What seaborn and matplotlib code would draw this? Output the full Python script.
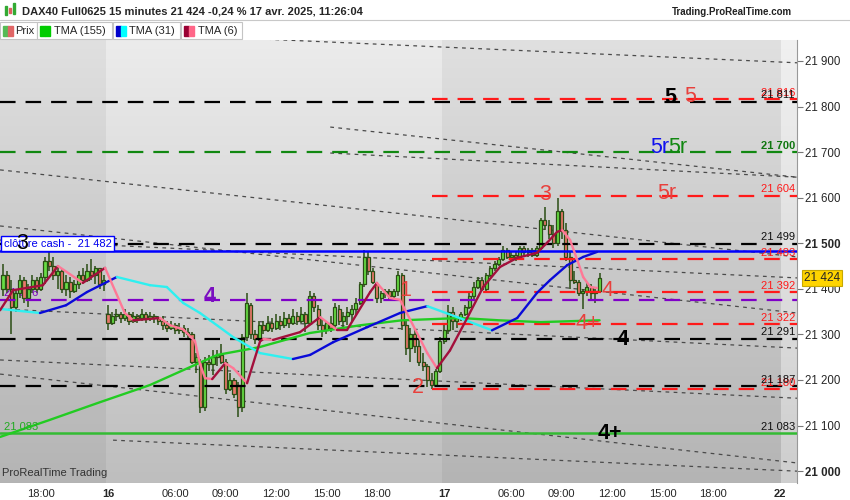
import matplotlib
matplotlib.use("Agg")
import matplotlib.pyplot as plt
import matplotlib.transforms as mtransforms
from matplotlib.patches import Rectangle
import numpy as np
import pandas as pd
import seaborn as sns

##################################################
# Bougies 15 minutes (index de barre : 0 = 15/04 15:45, 25 = ouverture du 16, 105 = ouverture du 17)
opens = [21400, 21430, 21400, 21360, 21390, 21420, 21380, 21400, 21420, 21400, 21425, 21460, 21450,
         21430, 21440, 21400, 21415, 21395, 21410, 21430, 21420, 21440, 21430, 21445, 21410,
         # 16
         21345, 21325, 21340, 21345, 21335, 21345, 21330, 21340, 21335, 21345, 21335, 21340, 21335,
         21330, 21320, 21315, 21320, 21310, 21315, 21305, 21300, 21240, 21240, 21140, 21240, 21235,
         21250, 21255, 21240, 21180, 21200, 21190, 21140, 21295, 21365, 21300, 21290, 21320, 21310,
         21325, 21315, 21330, 21320, 21335, 21325, 21340, 21330, 21345, 21325, 21385, 21355, 21320,
         21310, 21325, 21320, 21355, 21330, 21340, 21345, 21355, 21370, 21410, 21470, 21440, 21410,
         21380, 21390, 21395, 21385, 21395, 21430, 21320, 21270, 21300, 21275, 21240, 21230, 21200,
         21190, 21220,
         # 17
         21285, 21310, 21350, 21330, 21335, 21345, 21360, 21385, 21405, 21420, 21400, 21430, 21445,
         21455, 21465, 21485, 21470, 21475, 21470, 21490, 21480, 21485, 21475, 21490, 21550, 21540,
         21520, 21500, 21570, 21530, 21470, 21420, 21415, 21390, 21395, 21405, 21390, 21395]
highs = [21455, 21440, 21420, 21400, 21430, 21425, 21410, 21430, 21425, 21435, 21470, 21480, 21470,
         21450, 21445, 21430, 21425, 21420, 21440, 21445, 21455, 21465, 21450, 21445, 21430,
         21365, 21350, 21355, 21350, 21355, 21350, 21350, 21345, 21355, 21350, 21350, 21345, 21340,
         21340, 21330, 21330, 21325, 21325, 21320, 21315, 21305, 21260, 21245, 21250, 21255, 21265,
         21265, 21280, 21245, 21215, 21205, 21195, 21300, 21390, 21370, 21310, 21330, 21330, 21340,
         21335, 21345, 21340, 21350, 21345, 21355, 21350, 21360, 21350, 21395, 21390, 21365, 21335,
         21330, 21340, 21370, 21365, 21350, 21360, 21365, 21380, 21415, 21485, 21480, 21445, 21415,
         21395, 21400, 21400, 21400, 21440, 21435, 21330, 21315, 21310, 21290, 21260, 21235, 21215,
         21225, 21295,
         21320, 21365, 21360, 21340, 21350, 21365, 21390, 21415, 21425, 21425, 21435, 21450, 21460,
         21470, 21495, 21490, 21480, 21480, 21495, 21495, 21490, 21490, 21495, 21555, 21580, 21550,
         21540, 21600, 21575, 21545, 21480, 21440, 21420, 21400, 21415, 21410, 21400, 21435]
lows = [21385, 21390, 21300, 21350, 21380, 21370, 21360, 21390, 21390, 21395, 21410, 21440, 21420,
        21400, 21390, 21385, 21380, 21390, 21400, 21410, 21415, 21420, 21410, 21400, 21395,
        21310, 21320, 21330, 21325, 21330, 21320, 21325, 21325, 21330, 21325, 21330, 21325, 21320,
        21310, 21305, 21310, 21300, 21300, 21295, 21290, 21235, 21215, 21127, 21132, 21220, 21210,
        21230, 21235, 21170, 21175, 21160, 21118, 21130, 21285, 21290, 21280, 21285, 21300, 21305,
        21305, 21310, 21310, 21315, 21315, 21320, 21320, 21325, 21305, 21320, 21350, 21310, 21295,
        21300, 21305, 21315, 21320, 21310, 21320, 21330, 21340, 21365, 21405, 21430, 21410, 21370,
        21370, 21380, 21375, 21375, 21385, 21310, 21255, 21240, 21260, 21230, 21220, 21185, 21180,
        21185, 21215,
        21280, 21300, 21310, 21315, 21330, 21340, 21355, 21375, 21400, 21395, 21395, 21425, 21440,
        21450, 21460, 21465, 21460, 21460, 21465, 21470, 21470, 21470, 21470, 21485, 21530, 21510,
        21490, 21495, 21510, 21460, 21400, 21410, 21385, 21355, 21385, 21375, 21370, 21390]
closes = [21430, 21400, 21360, 21390, 21420, 21380, 21400, 21420, 21400, 21425, 21460, 21450, 21430,
          21440, 21400, 21415, 21395, 21410, 21430, 21420, 21440, 21430, 21445, 21410, 21420,
          21325, 21340, 21345, 21335, 21345, 21330, 21340, 21335, 21345, 21335, 21340, 21335, 21330,
          21320, 21315, 21320, 21310, 21315, 21305, 21300, 21240, 21250, 21140, 21240, 21235, 21250,
          21255, 21240, 21180, 21200, 21170, 21140, 21295, 21370, 21300, 21290, 21320, 21310, 21325,
          21315, 21330, 21320, 21335, 21325, 21340, 21330, 21345, 21325, 21385, 21360, 21320, 21310,
          21325, 21315, 21360, 21330, 21340, 21350, 21355, 21370, 21410, 21470, 21440, 21415, 21380,
          21390, 21395, 21385, 21395, 21430, 21320, 21270, 21300, 21275, 21240, 21230, 21200, 21190,
          21220, 21285,
          21310, 21350, 21330, 21335, 21345, 21360, 21385, 21405, 21420, 21400, 21430, 21445, 21455,
          21465, 21485, 21470, 21475, 21470, 21490, 21480, 21485, 21475, 21490, 21550, 21540, 21520,
          21500, 21570, 21530, 21470, 21420, 21415, 21390, 21395, 21405, 21390, 21395, 21424]

# Moyennes mobiles
tma155_bar = [-0.7, 11, 23, 35, 51, 61, 73, 85, 95, 109, 118, 128, 142]
tma155_val = [21075, 21112, 21151, 21189, 21255, 21272, 21303, 21320, 21331, 21336, 21331, 21327, 21331]

tma31_bar = [-0.7, 8.8, 15, 20, 27.1, 35, 39, 42.9, 46.9, 49.3, 54.8, 61.2, 69, 73.1, 78.6, 86.7,
             94.5, 101, 108.1, 116.4, 122.4, 127.1, 130.2, 134.3, 138.1, 141.4]
tma31_val = [21356, 21347, 21364, 21393, 21426, 21408, 21404, 21369, 21347, 21331, 21294, 21259, 21246,
             21255, 21283, 21316, 21347, 21362, 21338, 21309, 21336, 21391, 21419, 21452, 21470, 21481]

tma6_bar = [-0.7, 2.4, 9.5, 13.1, 19, 24.3, 29, 31, 37.4, 39.8, 42.9, 45.7, 46.9, 48.1, 49.8, 52.9,
            54.8, 58.1, 61.2, 62, 64.3, 70.7, 75.5, 79.5, 81.9, 87.4, 89, 92.1, 94.5, 101, 103.3,
            106.4, 110.5, 114.3, 118.3, 122.4, 127.1, 129.5, 131.9, 133.1, 135, 136.7, 138.1, 139.8, 141.4]
tma6_val = [21353, 21397, 21408, 21450, 21413, 21446, 21347, 21331, 21336, 21320, 21311, 21285, 21235,
            21204, 21202, 21237, 21226, 21193, 21285, 21290, 21288, 21305, 21338, 21310, 21310, 21393,
            21413, 21380, 21376, 21259, 21226, 21265, 21336, 21404, 21448, 21468, 21479, 21501, 21525,
            21529, 21507, 21463, 21426, 21404, 21402]

# Niveaux horizontaux
black_levels = [21811, 21499, 21291, 21187]
black_labels = ["21 811", "21 499", "21 291", "21 187"]
red_levels = [21816, 21604, 21465, 21392, 21322, 21180]
red_labels = ["21 816", "21 604", "21 483", "21 392", "21 322", "21 180"]
red_start = 102
green_dash_level, green_dash_label = 21700, "21 700"
purple_level, purple_label = 21376, "21 376"
cash_level, cash_label = 21482, "clôture cash -  21 482"
support_level, support_label = 21083, "21 083"

# Lignes de tendance (barre, prix) -> (barre, prix)
trend_b0 = [57.1, -0.7, 77.9, 77.9, -0.7, -0.7, -0.7, -0.7, -0.7, 26.2]
trend_p0 = [21950, 21661, 21755, 21698, 21507, 21538, 21356, 21244, 21213, 21068]
trend_b1 = [189, 189, 189, 189, 189, 189, 189, 189, 189, 189]
trend_p1 = [21896, 21470, 21645, 21645, 21424, 21347, 21270, 21160, 21018, 21000]

# Annotations (chiffres)
RED, BLACK, BLUE, GREEN, PURPLE = "#e8403c", "#000000", "#1010ee", "#118811", "#7a0fc0"
mark_text = ["5", "5", "5r", "5r", "5r", "3", "3", "4", "1", "4", "4+", "4", "2", "4+"]
mark_bar = [158.8, 163.6, 156.4, 160.7, 158.1, 129, 4.5, 49.3, 95.7, 143.8, 139.3, 147.4, 98.8, 144.5]
mark_price = [21819, 21823, 21711, 21711, 21610, 21606, 21500, 21384, 21397, 21397, 21323, 21288, 21184, 21083]
mark_color = [BLACK, RED, BLUE, GREEN, RED, RED, BLACK, PURPLE, RED, RED, RED, BLACK, RED, BLACK]
mark_bold = [True, False, False, False, False, False, False, True, False, False, False, True, False, True]

tick_bars = [9, 25, 41, 53, 65, 77, 89, 105, 121, 133, 145, 157, 169, 185]
tick_labels = ["18:00", "16", "06:00", "09:00", "12:00", "15:00", "18:00", "17",
               "06:00", "09:00", "12:00", "15:00", "18:00", "22"]
price_ticks = [21000, 21100, 21200, 21300, 21400, 21500, 21600, 21700, 21800, 21900]
last_price = 21424

##################################################
sns.set_style("white")
plt.rcParams['font.family'] = ['Liberation Sans', 'DejaVu Sans']

W, H = 850, 500
fig = plt.figure(figsize=(8.5, 5), dpi=100)
fig.patch.set_facecolor("white")
ax = fig.add_axes([0, 17 / H, 797 / W, 443 / H])
XMIN, XMAX = -0.71, 189.0
YMIN, YMAX = 20974, 21946
ax.set_xlim(XMIN, XMAX)
ax.set_ylim(YMIN, YMAX)

# Fond dégradé + bandes des journées
grad = np.linspace(0.925, 0.745, 256)
img = np.dstack([grad, grad, grad]).reshape(256, 1, 3)
ax.imshow(img, extent=(XMIN, XMAX, YMIN, YMAX), aspect="auto", origin="upper", zorder=0)
ax.axvspan(XMIN, 24.6, color="black", alpha=0.05, lw=0, zorder=0.5)
ax.axvspan(104.6, 185.2, color="black", alpha=0.05, lw=0, zorder=0.5)
ax.axvspan(185.2, XMAX, color="white", alpha=0.25, lw=0, zorder=0.5)

# Lignes de tendance pointillées
for b0, p0, b1, p1 in zip(trend_b0, trend_p0, trend_b1, trend_p1):
    ax.plot([b0, b1], [p0, p1], color="#4a4a4a", lw=0.9, ls=(0, (3, 3.5)), zorder=2)

# Bougies
o, hi, lo, c = map(np.array, (opens, highs, lows, closes))
bars = np.arange(len(c))
edge = "#2a4d14"
up = c >= o
ax.vlines(bars, lo, hi, colors=edge, lw=1.1, zorder=4)
ax.bar(bars, np.maximum(np.abs(c - o), 2), bottom=np.minimum(o, c), width=0.74,
       color=np.where(up, "#66dd44", "#e8776a"), edgecolor=edge, linewidth=0.9, zorder=5)

# Niveaux
dash = (0, (7, 4.5))
for lv in black_levels:
    ax.axhline(lv, color="black", lw=1.6, ls=dash, zorder=5.5)
for lv in red_levels:
    ax.hlines(lv, red_start, XMAX, color="#ff1a1a", lw=1.6, ls=dash, zorder=5.5)
ax.axhline(green_dash_level, color="#118811", lw=1.6, ls=dash, zorder=5.5)
ax.axhline(purple_level, color="#7f00c8", lw=1.6, ls=dash, zorder=5.5)
ax.axhline(cash_level, color="#0000ff", lw=1.8, zorder=5.5)
ax.axhline(support_level, color="#33bb33", lw=1.8, zorder=5.5)

# Moyennes mobiles
tma155 = pd.DataFrame({"bar": tma155_bar, "val": tma155_val})
sns.lineplot(data=tma155, x="bar", y="val", color="#22cc22", lw=1.7, ax=ax, zorder=6)

def colored_line(xs, ys, rise, fall, lw=1.7):
    for i in range(len(xs) - 1):
        col = rise if ys[i + 1] >= ys[i] else fall
        ax.plot(xs[i:i + 2], ys[i:i + 2], color=col, lw=lw, solid_capstyle="round", zorder=6.2)

colored_line(tma31_bar, tma31_val, "#0a0ad8", "#2ef0f0")
colored_line(tma6_bar, tma6_val, "#a3103c", "#ff7896")

# Étiquettes des niveaux (à droite)
lab_x = 188.5
def level_text(y, s, col, weight="normal"):
    ax.annotate(s, (lab_x, y), xytext=(0, 1), textcoords="offset points", ha="right", va="bottom",
                fontsize=8, color=col, weight=weight, zorder=7)

for lv, lab in zip(red_levels, red_labels):
    level_text(lv, lab, "#ff1a1a")
for lv, lab in zip(black_levels, black_labels):
    level_text(lv, lab, "#111111")
level_text(green_dash_level, green_dash_label, "#117711", "bold")
level_text(support_level, support_label, "#111111")
ax.annotate(purple_label, (0.3, purple_level), xytext=(0, 1), textcoords="offset points",
            ha="left", va="bottom", fontsize=8, color="#7f00c8", zorder=4.5)
ax.annotate(support_label, (0.3, support_level), xytext=(0, 1), textcoords="offset points",
            ha="left", va="bottom", fontsize=8, color="#22aa22", zorder=7)

# Boîte clôture cash
ax.annotate(cash_label, (0.15, cash_level), xytext=(0, 2), textcoords="offset points",
            ha="left", va="bottom", fontsize=8, color="#0000ee", zorder=8,
            bbox=dict(boxstyle="square,pad=0.2", fc="white", ec="#0000ff", lw=1))

# Gros chiffres
for t, b, p, col, bold in zip(mark_text, mark_bar, mark_price, mark_color, mark_bold):
    ax.text(b, p, t, color=col, fontsize=15.5, ha="center", va="center",
            weight="bold" if bold else "normal", zorder=9)

ax.text(0.003, 0.012, "ProRealTime Trading", transform=ax.transAxes, fontsize=8,
        color="#333333", ha="left", va="bottom", zorder=9)

# Axes
for s in ["top", "left", "bottom"]:
    ax.spines[s].set_visible(False)
ax.spines["right"].set_color("#999999")
ax.yaxis.tick_right()
ax.set_yticks(price_ticks)
ax.set_yticklabels([f"{v:,}".replace(",", " ") for v in price_ticks])
for v, tl in zip(price_ticks, ax.get_yticklabels()):
    if v in (21000, 21500):
        tl.set_fontweight("bold")
        tl.set_fontsize(9)
ax.tick_params(axis="y", direction="out", length=4, width=0.8, color="#777777",
               labelsize=8.3, pad=2)
ax.set_xticks(tick_bars)
ax.set_xticklabels(tick_labels)
for lab in ax.get_xticklabels():
    if ":" not in lab.get_text():
        lab.set_fontweight("bold")
        lab.set_fontsize(10)
ax.tick_params(axis="x", direction="out", length=3, width=0.8, color="#888888",
               labelsize=8, pad=1)
ax.set_xlabel("")
ax.set_ylabel("")

# Prix courant
tr = mtransforms.blended_transform_factory(ax.transAxes, ax.transData)
ax.text(1.009, last_price, "21 424", transform=tr, fontsize=8.5, ha="left", va="center",
        zorder=10, clip_on=False,
        bbox=dict(boxstyle="square,pad=0.15", fc="#ffd400", ec="#c8a800", lw=0.8))

# Bandeau titre + légende
def fx(px): return px / W
def fy(py): return 1 - py / H

fig.add_artist(plt.Line2D([0, 1], [fy(20), fy(20)], color="#c8c8c8", lw=0.8))
for xc, yb, yt, col in [(6, 15, 6, "#33aa33"), (10, 13, 8, "#e06060"), (14, 14, 3, "#33aa33")]:
    fig.add_artist(Rectangle((fx(xc - 1), fy(yb)), fx(2), (yb - yt) / H, color=col))
fig.text(fx(22), fy(12), "DAX40 Full0625 15 minutes 21 424 -0,24 % 17 avr. 2025, 11:26:04",
         fontsize=8, weight="bold", va="center", ha="left")
fig.text(fx(792), fy(12), "Trading.ProRealTime.com", fontsize=7, weight="bold",
         va="center", ha="right", color="#222222")

legend_boxes = [(0, 37, ("#55bb55", "#e06666"), "Prix", 15),
                (37, 112, ("#00cc00", "#00cc00"), "TMA (155)", 54),
                (113, 180, ("#0000cc", "#00ffff"), "TMA (31)", 129),
                (181, 242, ("#990033", "#ff6688"), "TMA (6)", 198)]
for x0, x1, sw, txt, tx in legend_boxes:
    fig.add_artist(Rectangle((fx(x0), fy(39)), fx(x1 - x0), 17 / H, fc="white",
                             ec="#c4c4c4", lw=0.8))
    c1, c2 = sw
    fig.add_artist(Rectangle((fx(x0 + 3), fy(36)), fx(5), 10 / H, color=c1))
    fig.add_artist(Rectangle((fx(x0 + 8), fy(36)), fx(5), 10 / H, color=c2))
    fig.text(fx(tx), fy(31), txt, fontsize=8, va="center", ha="left")

fig.savefig("out.png", dpi=100, facecolor="white")
